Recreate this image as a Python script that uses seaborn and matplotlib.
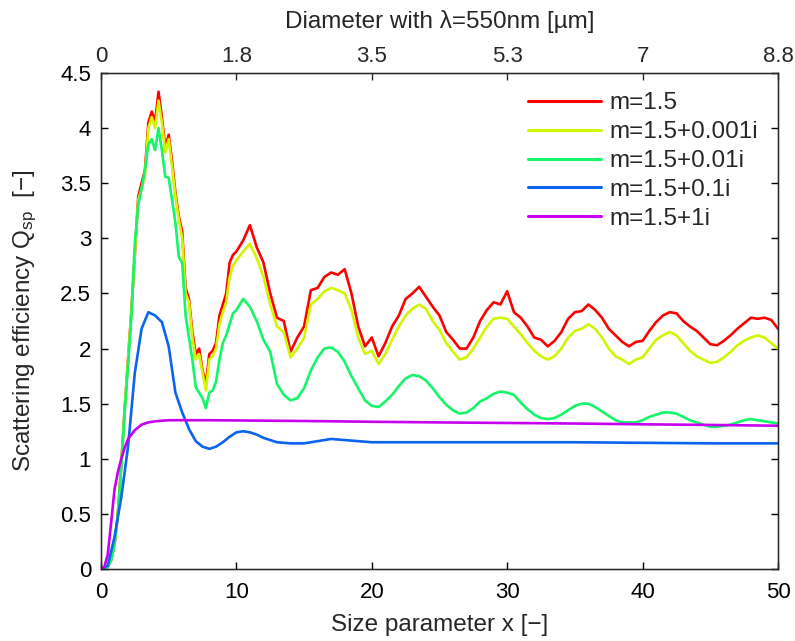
import numpy as np
import pandas as pd
import matplotlib
matplotlib.use("Agg")
import matplotlib.pyplot as plt
import seaborn as sns
from matplotlib.ticker import FuncFormatter

# ---------------- data ----------------
x_main = [0, 0.25, 0.5, 0.75, 1.0, 1.25, 1.5, 1.75, 2.0, 2.25, 2.5, 2.75, 3.0, 3.25, 3.5, 3.75,
          4.0, 4.25, 4.5, 4.75, 5.0, 5.25, 5.5, 5.75, 6.0, 6.25, 6.5, 6.75, 7.0, 7.25, 7.5, 7.75,
          8.0, 8.25, 8.5, 8.75, 9.0, 9.25, 9.5, 9.75, 10.0,
          10.5, 11.0, 11.5, 12.0, 12.5, 13.0, 13.5, 14.0, 14.5, 15.0, 15.5, 16.0, 16.5, 17.0, 17.5,
          18.0, 18.5, 19.0, 19.5, 20.0, 20.5, 21.0, 21.5, 22.0, 22.5, 23.0, 23.5, 24.0, 24.5, 25.0,
          25.5, 26.0, 26.5, 27.0, 27.5, 28.0, 28.5, 29.0, 29.5, 30.0, 30.5, 31.0, 31.5, 32.0, 32.5,
          33.0, 33.5, 34.0, 34.5, 35.0, 35.5, 36.0, 36.5, 37.0, 37.5, 38.0, 38.5, 39.0, 39.5, 40.0,
          40.5, 41.0, 41.5, 42.0, 42.5, 43.0, 43.5, 44.0, 44.5, 45.0, 45.5, 46.0, 46.5, 47.0, 47.5,
          48.0, 48.5, 49.0, 49.5, 50.0]

q_m15 = [0, 0.0, 0.02, 0.08, 0.22, 0.5, 0.95, 1.45, 1.9, 2.35, 2.85, 3.38, 3.5, 3.62, 4.05, 4.15,
         4.06, 4.33, 4.1, 3.82, 3.94, 3.7, 3.41, 3.2, 3.06, 2.55, 2.45, 2.15, 1.95, 2.0, 1.8, 1.68,
         1.95, 1.98, 2.05, 2.3, 2.4, 2.5, 2.78, 2.85, 2.88,
         2.98, 3.12, 2.92, 2.78, 2.5, 2.28, 2.25, 1.97, 2.1, 2.2, 2.53, 2.55, 2.65, 2.69, 2.67,
         2.72, 2.5, 2.2, 2.02, 2.1, 1.93, 2.05, 2.2, 2.3, 2.45, 2.5, 2.56, 2.47, 2.38, 2.3,
         2.15, 2.08, 2.0, 2.0, 2.1, 2.25, 2.35, 2.42, 2.4, 2.52, 2.33, 2.28, 2.2, 2.1, 2.08,
         2.02, 2.07, 2.15, 2.27, 2.33, 2.34, 2.4, 2.35, 2.28, 2.18, 2.12, 2.06, 2.02, 2.06, 2.07,
         2.16, 2.24, 2.3, 2.33, 2.32, 2.25, 2.2, 2.16, 2.1, 2.04, 2.03, 2.07, 2.12, 2.18, 2.23,
         2.28, 2.27, 2.28, 2.26, 2.18]

q_m15_001 = [0, 0.0, 0.02, 0.08, 0.22, 0.5, 0.95, 1.45, 1.9, 2.35, 2.85, 3.35, 3.45, 3.58, 4.0, 4.1,
             4.0, 4.25, 4.05, 3.78, 3.9, 3.65, 3.38, 3.17, 3.0, 2.5, 2.42, 2.1, 1.9, 1.95, 1.78, 1.62,
             1.9, 1.93, 2.0, 2.22, 2.33, 2.42, 2.65, 2.75, 2.8,
             2.88, 2.95, 2.82, 2.65, 2.4, 2.2, 2.15, 1.92, 2.0, 2.1, 2.4, 2.45, 2.52, 2.55, 2.53,
             2.5, 2.35, 2.1, 1.95, 1.98, 1.86, 1.95, 2.08, 2.2, 2.3, 2.36, 2.4, 2.36, 2.25, 2.17,
             2.05, 1.97, 1.9, 1.92, 2.0, 2.1, 2.2, 2.27, 2.28, 2.27, 2.2, 2.13, 2.05, 1.98, 1.93,
             1.9, 1.93, 2.0, 2.1, 2.16, 2.18, 2.22, 2.18, 2.1, 2.0, 1.93, 1.9, 1.86, 1.9, 1.92,
             2.0, 2.08, 2.12, 2.15, 2.12, 2.05, 1.98, 1.93, 1.9, 1.87, 1.88, 1.92, 1.97, 2.03, 2.07,
             2.1, 2.12, 2.1, 2.05, 2.0]

q_m15_01 = [0, 0.0, 0.02, 0.08, 0.22, 0.5, 0.93, 1.42, 1.85, 2.3, 2.95, 3.3, 3.45, 3.62, 3.85, 3.9,
            3.8, 4.0, 3.8, 3.56, 3.55, 3.35, 3.14, 2.83, 2.78, 2.3, 2.1, 1.9, 1.65, 1.6, 1.55, 1.46,
            1.6, 1.62, 1.7, 1.9, 2.05, 2.12, 2.22, 2.32, 2.35,
            2.45, 2.38, 2.25, 2.08, 1.97, 1.68, 1.58, 1.53, 1.55, 1.64, 1.8, 1.92, 2.0, 2.01, 1.97,
            1.88, 1.75, 1.64, 1.53, 1.48, 1.47, 1.52, 1.58, 1.66, 1.73, 1.76, 1.75, 1.71, 1.64, 1.56,
            1.49, 1.44, 1.41, 1.42, 1.46, 1.52, 1.55, 1.59, 1.61, 1.6, 1.58, 1.51, 1.45, 1.4, 1.37,
            1.36, 1.37, 1.4, 1.44, 1.48, 1.5, 1.5, 1.47, 1.43, 1.39, 1.35, 1.33, 1.33, 1.33, 1.35,
            1.38, 1.4, 1.42, 1.42, 1.41, 1.38, 1.35, 1.33, 1.31, 1.29, 1.29, 1.3, 1.31, 1.33, 1.35,
            1.36, 1.35, 1.34, 1.33, 1.32]

x_m15_1 = [0, 0.5, 1.0, 1.5, 2.0, 2.5, 3.0, 3.5, 4.0, 4.5, 5.0, 5.5, 6.0, 6.5, 7.0, 7.5, 8.0, 8.5,
           9.0, 9.5, 10.0, 10.5, 11.0, 11.5, 12.0, 13.0, 14.0, 15.0, 16.0, 17.0, 18.0, 19.0, 20.0,
           22.0, 25.0, 30.0, 35.0, 40.0, 45.0, 50.0]
q_m15_1 = [0, 0.03, 0.29, 0.65, 1.11, 1.78, 2.18, 2.33, 2.3, 2.24, 2.02, 1.6, 1.42, 1.27, 1.16, 1.11,
           1.09, 1.11, 1.15, 1.2, 1.24, 1.25, 1.24, 1.22, 1.19, 1.15, 1.14, 1.14, 1.16, 1.18, 1.17,
           1.16, 1.15, 1.15, 1.15, 1.15, 1.15, 1.145, 1.14, 1.14]

x_m15_1i = [0, 0.25, 0.5, 0.75, 1.0, 1.25, 1.5, 1.75, 2.0, 2.5, 3.0, 3.5, 4.0, 5.0, 6.0, 8.0, 10.0,
            15.0, 20.0, 25.0, 30.0, 35.0, 40.0, 45.0, 50.0]
q_m15_1i = [0, 0.02, 0.13, 0.42, 0.72, 0.88, 1.0, 1.1, 1.18, 1.26, 1.31, 1.33, 1.34, 1.35, 1.35,
            1.35, 1.348, 1.343, 1.336, 1.33, 1.325, 1.32, 1.313, 1.307, 1.3]

labels = ["m=1.5", "m=1.5+0.001i", "m=1.5+0.01i", "m=1.5+0.1i", "m=1.5+1i"]
colors = ["#ff0000", "#d2f500", "#14f569", "#0a64f0", "#c800f0"]

top_tick_pos = [0, 10, 20, 30, 40, 50]
top_tick_labels = ["0", "1.8", "3.5", "5.3", "7", "8.8"]

# ---------------- plotting ----------------
sns.set_style("ticks")
plt.rcParams["font.family"] = ["Liberation Sans", "DejaVu Sans"]
plt.rcParams["mathtext.fontset"] = "custom"
plt.rcParams["mathtext.rm"] = "Liberation Sans"
plt.rcParams["mathtext.it"] = "Liberation Sans"
plt.rcParams["axes.unicode_minus"] = True

FS_TICK = 16
FS_LAB = 17.5
FS_LEG = 17.5
fig = plt.figure(figsize=(7.95, 6.41), dpi=100)
ax = fig.add_axes([0.127, 0.1123, 0.8516, 0.7738])

series = [
    (x_main, q_m15),
    (x_main, q_m15_001),
    (x_main, q_m15_01),
    (x_m15_1, q_m15_1),
    (x_m15_1i, q_m15_1i),
]
for (xs, ys), lab, col in zip(series, labels, colors):
    df = pd.DataFrame({"x": xs, "q": ys})
    sns.lineplot(data=df, x="x", y="q", ax=ax, color=col, label=lab, linewidth=1.9)

ax.set_xlim(0, 50)
ax.set_ylim(0, 4.5)
ax.set_xticks([0, 10, 20, 30, 40, 50])
ax.set_yticks(np.arange(0, 4.51, 0.5))
ax.yaxis.set_major_formatter(FuncFormatter(lambda v, p: "%g" % v))
ax.set_xlabel("Size parameter x [\u2212]", fontsize=FS_LAB, labelpad=8)
ax.set_ylabel("Scattering efficiency Q$_{\\rm sp}$  [\u2212]", fontsize=FS_LAB, labelpad=15)
ax.tick_params(axis="x", direction="in", length=5, width=1.0, labelsize=FS_TICK, top=False,
               colors="black", pad=9)
ax.tick_params(axis="y", direction="in", length=5, width=1.0, labelsize=FS_TICK, right=True,
               colors="black", pad=7)
for s in ax.spines.values():
    s.set_linewidth(1.0)
    s.set_color("black")

ax2 = ax.twiny()
ax2.set_xlim(ax.get_xlim())
ax2.set_xticks(top_tick_pos)
ax2.set_xticklabels(top_tick_labels)
ax2.tick_params(direction="in", length=5, width=1.0, labelsize=FS_TICK, pad=4)
ax2.set_xlabel("Diameter with \u03bb=550nm [\u00b5m]", fontsize=FS_LAB, labelpad=13)

leg = ax.legend(loc="upper right", frameon=False, fontsize=FS_LEG, handlelength=3.0,
                handletextpad=0.38, labelspacing=0.28, borderaxespad=0.4)
for line in leg.get_lines():
    line.set_linewidth(2.2)

fig.savefig("out.png", dpi=100)
